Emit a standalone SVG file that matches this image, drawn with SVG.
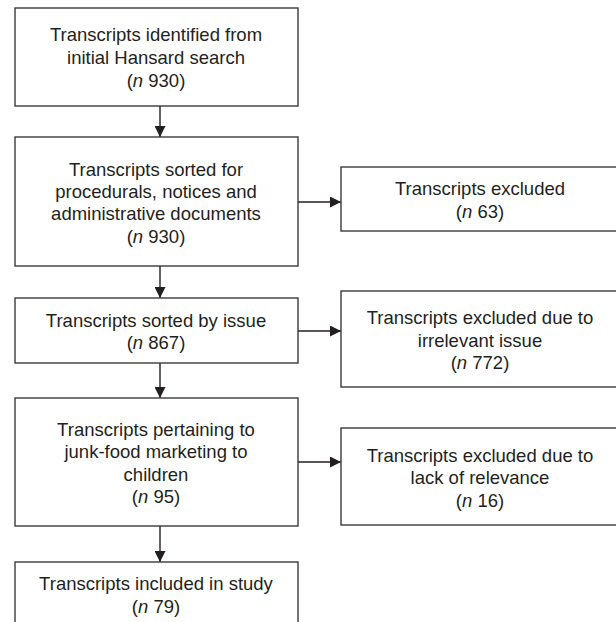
<svg xmlns="http://www.w3.org/2000/svg" width="616" height="622" viewBox="0 0 616 622">
<defs>
<style>
.box{fill:#fff;stroke:#3a3a3a;stroke-width:1.4}
.t{font-family:"Liberation Sans",Arial,sans-serif;font-size:18.5px;fill:#231f20;text-anchor:middle}
.c{stroke:#231f20;stroke-width:1.4;fill:none}
</style>
<marker id="ah" viewBox="0 0 10 10" refX="10" refY="5" markerWidth="11" markerHeight="11" markerUnits="userSpaceOnUse" orient="auto">
<path d="M0,0 L10,5 L0,10 Z" fill="#231f20"/>
</marker>
</defs>
<rect width="616" height="622" fill="#fff"/>
<g id="connectors">
<line class="c" x1="160" y1="106" x2="160" y2="137" marker-end="url(#ah)"/>
<line class="c" x1="160" y1="266" x2="160" y2="298" marker-end="url(#ah)"/>
<line class="c" x1="160" y1="363" x2="160" y2="398" marker-end="url(#ah)"/>
<line class="c" x1="160" y1="526" x2="160" y2="562" marker-end="url(#ah)"/>
<line class="c" x1="298" y1="202" x2="341" y2="202" marker-end="url(#ah)"/>
<line class="c" x1="298" y1="331" x2="341" y2="331" marker-end="url(#ah)"/>
<line class="c" x1="298" y1="462" x2="341" y2="462" marker-end="url(#ah)"/>
</g>
<g id="n1">
<rect class="box" x="15" y="8" width="283" height="98"/>
<text class="t" x="156" y="41">Transcripts identified from</text>
<text class="t" x="156" y="64">initial Hansard search</text>
<text class="t" x="156" y="87">(<tspan font-style="italic">n</tspan> 930)</text>
</g>
<g id="n2">
<rect class="box" x="15" y="137" width="283" height="129"/>
<text class="t" x="156" y="176">Transcripts sorted for</text>
<text class="t" x="156" y="198">procedurals, notices and</text>
<text class="t" x="156" y="220">administrative documents</text>
<text class="t" x="156" y="243">(<tspan font-style="italic">n</tspan> 930)</text>
</g>
<g id="n3">
<rect class="box" x="15" y="298" width="283" height="65"/>
<text class="t" x="156" y="327">Transcripts sorted by issue</text>
<text class="t" x="156" y="349">(<tspan font-style="italic">n</tspan> 867)</text>
</g>
<g id="n4">
<rect class="box" x="15" y="398" width="283" height="128"/>
<text class="t" x="156" y="436">Transcripts pertaining to</text>
<text class="t" x="156" y="458">junk-food marketing to</text>
<text class="t" x="156" y="481">children</text>
<text class="t" x="156" y="503">(<tspan font-style="italic">n</tspan> 95)</text>
</g>
<g id="n5">
<rect class="box" x="15" y="562" width="283" height="70"/>
<text class="t" x="156" y="590">Transcripts included in study</text>
<text class="t" x="156" y="613">(<tspan font-style="italic">n</tspan> 79)</text>
</g>
<g id="r1">
<rect class="box" x="341" y="167" width="285" height="64"/>
<text class="t" x="480" y="195">Transcripts excluded</text>
<text class="t" x="480" y="218">(<tspan font-style="italic">n</tspan> 63)</text>
</g>
<g id="r2">
<rect class="box" x="341" y="291" width="285" height="96"/>
<text class="t" x="480" y="324">Transcripts excluded due to</text>
<text class="t" x="480" y="347">irrelevant issue</text>
<text class="t" x="480" y="369">(<tspan font-style="italic">n</tspan> 772)</text>
</g>
<g id="r3">
<rect class="box" x="341" y="428" width="285" height="97"/>
<text class="t" x="480" y="462">Transcripts excluded due to</text>
<text class="t" x="480" y="484">lack of relevance</text>
<text class="t" x="480" y="507">(<tspan font-style="italic">n</tspan> 16)</text>
</g>
</svg>
